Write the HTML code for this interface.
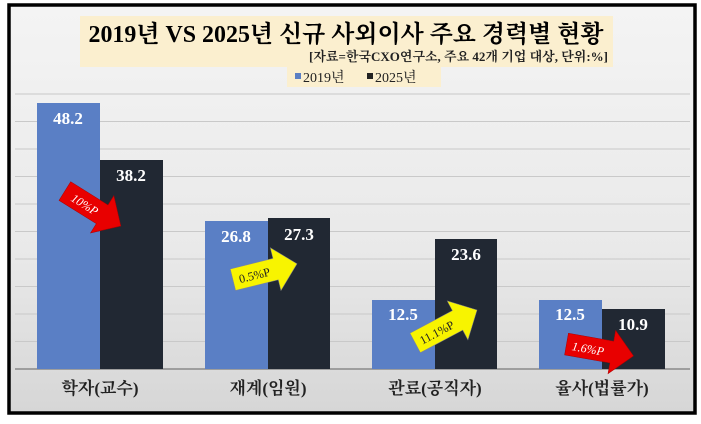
<!DOCTYPE html>
<html><head><meta charset="utf-8"><style>
html,body{margin:0;padding:0;background:#fff;}
svg{display:block;}
text{font-family:"Liberation Serif","Noto Serif CJK SC",serif;}
</style></head><body>
<svg width="701" height="424" viewBox="0 0 701 424">
<defs>
<linearGradient id="bg" x1="0" y1="0" x2="0" y2="1">
<stop offset="0" stop-color="#f4f4f4"/><stop offset="0.6" stop-color="#e9e9e9"/><stop offset="1" stop-color="#d6d6d6"/>
</linearGradient>
</defs>
<rect x="0" y="0" width="701" height="424" fill="#fff"/>
<rect x="9" y="5" width="686" height="408" fill="url(#bg)" stroke="#000" stroke-width="3.5"/>
<g stroke="#c9c9c9" stroke-width="1">
<line x1="15" x2="690" y1="94" y2="94"/>
<line x1="15" x2="690" y1="121.5" y2="121.5"/>
<line x1="15" x2="690" y1="149" y2="149"/>
<line x1="15" x2="690" y1="176.5" y2="176.5"/>
<line x1="15" x2="690" y1="204" y2="204"/>
<line x1="15" x2="690" y1="231.5" y2="231.5"/>
<line x1="15" x2="690" y1="259" y2="259"/>
<line x1="15" x2="690" y1="286.5" y2="286.5"/>
<line x1="15" x2="690" y1="314" y2="314"/>
<line x1="15" x2="690" y1="341.5" y2="341.5"/>
</g>
<line x1="15" x2="690" y1="369" y2="369" stroke="#8a8a8a" stroke-width="1.5"/>
<rect x="80" y="16" width="533" height="51" fill="#fbefcf"/>
<rect x="287" y="66" width="154" height="21" fill="#fbefcf"/>
<text x="346" y="42" text-anchor="middle" font-size="24" font-weight="bold" fill="#000" textLength="515" lengthAdjust="spacingAndGlyphs">2019년 VS 2025년 신규 사외이사 주요 경력별 현황</text>
<text x="608" y="61" text-anchor="end" font-size="13" font-weight="bold" fill="#222">[자료=한국CXO연구소,  주요 42개 기업 대상, 단위:%]</text>
<rect x="295" y="73" width="6" height="6" fill="#5b7fc3"/>
<text x="303" y="82" font-size="14" fill="#222">2019년</text>
<rect x="367" y="73" width="6" height="6" fill="#222"/>
<text x="375" y="82" font-size="14" fill="#222">2025년</text>
<g fill="#5a7fc5">
<rect x="37" y="103" width="63" height="266"/>
<rect x="205" y="221" width="63" height="148"/>
<rect x="372" y="300" width="63" height="69"/>
<rect x="539" y="300" width="63" height="69"/>
</g>
<g fill="#212833">
<rect x="100" y="160" width="63" height="209"/>
<rect x="268" y="218" width="62" height="151"/>
<rect x="435" y="239" width="62" height="130"/>
<rect x="602" y="309" width="63" height="60"/>
</g>
<g fill="#fff" font-size="17" font-weight="bold" text-anchor="middle">
<text x="68" y="124">48.2</text>
<text x="131" y="181">38.2</text>
<text x="236" y="242">26.8</text>
<text x="299" y="240">27.3</text>
<text x="403" y="320">12.5</text>
<text x="466" y="260">23.6</text>
<text x="570" y="320">12.5</text>
<text x="633" y="330">10.9</text>
</g>
<g transform="translate(92,208) rotate(32)">
<polygon points="-32,-11 12,-11 12,-22 34,0 12,22 12,11 -32,11" fill="#e80000" stroke="#a00" stroke-width="0.5"/>
<text x="-8" y="5" font-size="12" fill="#fff" text-anchor="middle" font-style="italic">10%P</text>
</g>
<g transform="translate(264,272) rotate(-14)">
<polygon points="-32,-11 12,-11 12,-22 34,0 12,22 12,11 -32,11" fill="#f8f400" stroke="#888" stroke-width="0.5"/>
<text x="-10" y="5" font-size="12" fill="#222" text-anchor="middle">0.5%P</text>
</g>
<g transform="translate(447,326) rotate(-28)">
<polygon points="-36,-11 12,-11 12,-22 34,0 12,22 12,11 -36,11" fill="#f8f400" stroke="#888" stroke-width="0.5"/>
<text x="-12" y="5" font-size="12" fill="#222" text-anchor="middle">11.1%P</text>
</g>
<g transform="translate(600,350) rotate(10)">
<polygon points="-34,-11 12,-11 12,-22 34,0 12,22 12,11 -34,11" fill="#e80000" stroke="#a00" stroke-width="0.5"/>
<text x="-12" y="5" font-size="12" fill="#fff" text-anchor="middle" font-style="italic">1.6%P</text>
</g>
<g font-size="17" font-weight="bold" fill="#222" text-anchor="middle">
<text x="100" y="394">학자(교수)</text>
<text x="268" y="394">재계(임원)</text>
<text x="435" y="394">관료(공직자)</text>
<text x="602" y="394">율사(법률가)</text>
</g>
</svg>
</body></html>
